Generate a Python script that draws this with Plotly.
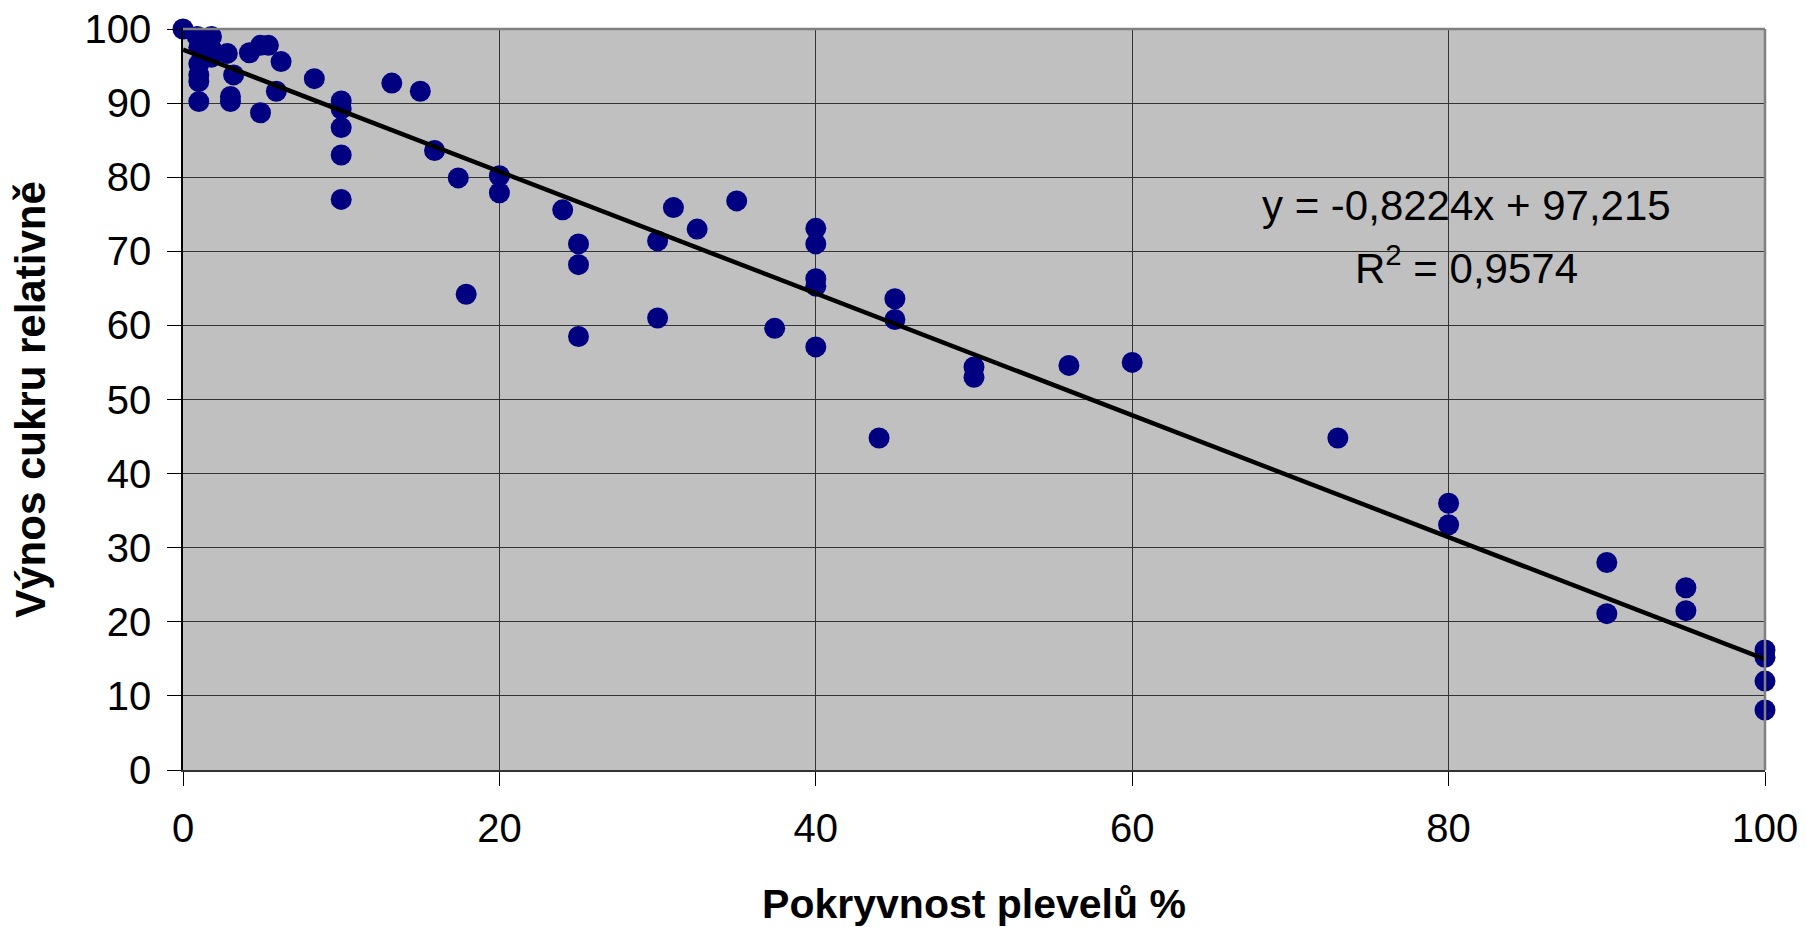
import plotly.graph_objects as go

# Data
cover = [0, 0.9, 1.8, 1.0, 1.8, 1.8, 2.8, 1.0,
         1.0, 1.0, 1.0, 3.2, 3.0, 3.0, 4.2, 4.9, 5.4, 4.9, 5.9, 6.2, 8.3,
         10, 10, 10, 10, 10, 13.2, 15.0, 15.9, 17.4, 17.9, 20, 20, 24,
         25, 25, 25, 30, 30, 31, 32.5, 35, 37.4, 40, 40, 40, 40, 40,
         44, 45, 45, 50, 50, 56, 60, 73, 80, 80, 90, 90, 95, 95,
         100, 100, 100, 100]
sugar_yield = [100, 99.0, 99.0, 97.5, 97.3, 96.2, 96.7, 95.3,
               93.8, 92.9, 90.2, 93.8, 90.9, 90.2, 96.8, 97.8, 97.8, 88.7, 91.6, 95.6, 93.3,
               90.3, 89.2, 86.7, 83.0, 77.0, 92.7, 91.6, 83.6, 79.9, 64.2, 80.2, 77.9, 75.6,
               71.0, 68.2, 58.5, 71.4, 61.0, 75.9, 73.0, 76.8, 59.6, 73.1, 71.0, 66.3, 65.3, 57.1,
               44.8, 63.6, 60.8, 54.4, 53.0, 54.6, 55.0, 44.8, 36.0, 33.1, 28.0, 21.1, 24.6, 21.5,
               16.2, 15.2, 12.0, 8.1]

# Linear trendline as shown on the chart
slope = -0.8224
intercept = 97.215
trend_x = [0, 100]
trend_y = [intercept + slope * v for v in trend_x]

x_ticks = [0, 20, 40, 60, 80, 100]
y_ticks = [0, 10, 20, 30, 40, 50, 60, 70, 80, 90, 100]

fig = go.Figure()
fig.add_trace(go.Scatter(
    x=cover, y=sugar_yield, mode="markers",
    marker=dict(color="#000080", size=21, line=dict(width=0)),
    cliponaxis=False, showlegend=False,
))
fig.add_trace(go.Scatter(
    x=trend_x, y=trend_y, mode="lines",
    line=dict(color="black", width=4.5),
    showlegend=False,
))

fig.update_layout(
    width=1806, height=927,
    margin=dict(l=183, r=41, t=29, b=157),
    paper_bgcolor="white",
    plot_bgcolor="#C0C0C0",
    font=dict(family="Liberation Sans, Arial, sans-serif", color="black"),
    xaxis=dict(
        range=[0, 100], tickvals=x_ticks, automargin=False,
        ticklabeloverflow="allow",
        showgrid=True, gridcolor="#333333", gridwidth=1.2,
        zeroline=False, showline=True, linecolor="#333333", linewidth=2,
        ticks="outside", ticklen=14, tickcolor="black", tickwidth=1,
        ticklabelstandoff=8,
        tickfont=dict(family="Liberation Sans, Arial", size=40),
        title=dict(text="<b>Pokryvnost plevelů %</b>",
                   font=dict(family="Liberation Sans, Arial", size=41),
                   standoff=44),
    ),
    yaxis=dict(
        range=[0, 100], tickvals=y_ticks, automargin=False,
        ticklabeloverflow="allow",
        showgrid=True, gridcolor="#333333", gridwidth=1.2,
        zeroline=False, showline=True, linecolor="black", linewidth=1.5,
        ticks="outside", ticklen=14, tickcolor="black", tickwidth=1,
        ticklabelstandoff=8,
        tickfont=dict(family="Liberation Sans, Arial", size=40),
        title=dict(text="<b>Výnos cukru relativně</b>",
                   font=dict(family="Liberation Sans, Arial", size=42),
                   standoff=26),
    ),
    shapes=[
        dict(type="line", xref="paper", yref="paper", x0=0, x1=1, y0=1, y1=1,
             line=dict(color="#808080", width=2.5)),
        dict(type="line", xref="paper", yref="paper", x0=1, x1=1, y0=0, y1=1,
             line=dict(color="#808080", width=2.5)),
    ],
    annotations=[
        dict(xref="x", yref="y", x=81.1, y=76.2, xanchor="center", yanchor="middle",
             text="y = -0,8224x + 97,215", showarrow=False,
             font=dict(size=42, color="black")),
        dict(xref="x", yref="y", x=81.1, y=68.1, xanchor="center", yanchor="middle",
             text="R<sup>2</sup> = 0,9574", showarrow=False,
             font=dict(size=42, color="black")),
    ],
)

fig.write_html(
    "out.html",
    config={"displayModeBar": False},
    post_script="document.body.style.margin='0';document.body.style.overflow='hidden';",
)
